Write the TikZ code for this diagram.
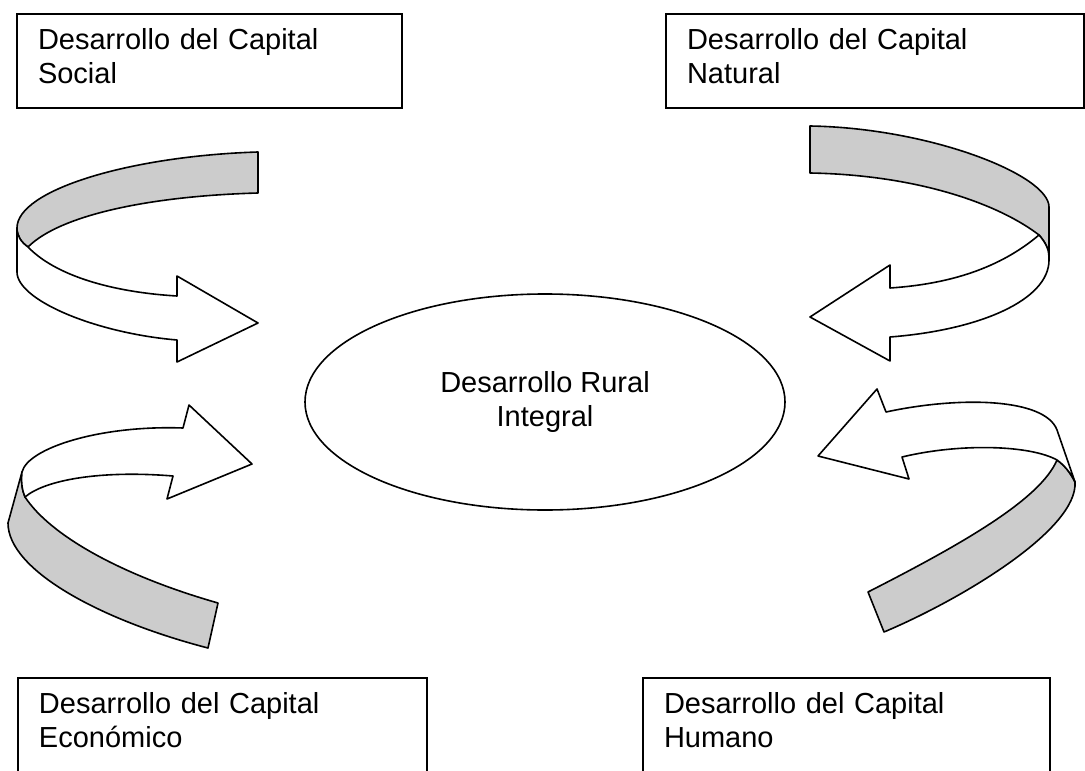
\documentclass[tikz,border=0pt]{standalone}
\usepackage{fontspec}
\setmainfont{Liberation Sans}
\usetikzlibrary{shapes.geometric}
\definecolor{ribbongray}{RGB}{204,204,204}

\begin{document}
\begin{tikzpicture}[x=0.5pt, y=-0.5pt,
    capbox/.style={draw, line width=1pt, anchor=north west, align=left, inner xsep=10.5pt, minimum height=47pt, font=\fontsize{14.5}{16.75}\selectfont},
    ribbonback/.style={fill=ribbongray, draw, line width=0.8pt, line join=round},
    ribbonfront/.style={fill=white, draw, line width=0.8pt, line join=round}]
    \useasboundingbox (0,0) rectangle (1085,770);
    \clip (0,0) rectangle (1085,770);

    % Capital boxes
    \foreach \capname/\x/\y/\tw/\captext in {social/16/13/171.5pt/Social, natural/665/13/188pt/Natural, economico/17/677/183.5pt/Económico, humano/642/677/182.5pt/Humano} {
        \node[capbox, text width=\tw] (\capname) at (\x,\y) {Desarrollo del Capital\\\captext\strut};
    }

    % Central ellipse
    \node[ellipse, draw, line width=0.8pt, minimum width=240pt, minimum height=108pt, align=center, font=\fontsize{14.5}{16.75}\selectfont] (rural) at (545,402) {Desarrollo Rural\\Integral};

    % Social arrow
    \draw[ribbonback] (258,152) .. controls (130,156) and (17,190) .. (17,228) .. controls (17,236) and (21,242) .. (28,247) .. controls (60,215) and (150,196) .. (258,193) -- cycle;
    \draw[ribbonfront] (17,228) .. controls (17,236) and (21,242) .. (28,247) .. controls (55,275) and (110,292) .. (177,296) -- (177,276) -- (258,323) -- (177,362) -- (177,340) .. controls (95,333) and (17,300) .. (17,272) -- cycle;

    % Natural arrow
    \draw[ribbonback] (810,126) .. controls (930,128) and (1049,175) .. (1049,207) -- (1049,257) .. controls (1049,250) and (1046,243) .. (1039,235) .. controls (1000,205) and (920,175) .. (810,173) -- cycle;
    \draw[ribbonfront] (1039,235) .. controls (1000,268) and (950,284) .. (890,288) -- (890,265) -- (810,317) -- (890,361) -- (890,337) .. controls (980,330) and (1049,300) .. (1049,260) -- (1049,257) .. controls (1049,250) and (1046,243) .. (1039,235) -- cycle;

    % Economico arrow
    \draw[ribbonback] (22,472) -- (8,523) .. controls (8,570) and (100,620) .. (208,648) -- (218,603) .. controls (120,575) and (50,535) .. (25,497) .. controls (22,490) and (21,482) .. (22,472) -- cycle;
    \draw[ribbonfront] (183,428) .. controls (100,425) and (28,448) .. (22,472) .. controls (21,482) and (22,490) .. (25,497) .. controls (45,480) and (100,470) .. (173,476) -- (167,499) -- (252,464) -- (189,405) -- cycle;

    % Humano arrow
    \draw[ribbonback] (1057,460) .. controls (1064,465) and (1070,472) .. (1075,482) .. controls (1078,530) and (960,600) .. (884,632) -- (868,592) .. controls (960,545) and (1040,500) .. (1057,460) -- cycle;
    \draw[ribbonfront] (886,412) .. controls (960,396) and (1045,398) .. (1057,430) -- (1075,482) .. controls (1070,472) and (1064,465) .. (1057,460) .. controls (1030,445) and (960,443) .. (902,457) -- (909,479) -- (818,456) -- (877,389) -- cycle;
\end{tikzpicture}
\end{document}
